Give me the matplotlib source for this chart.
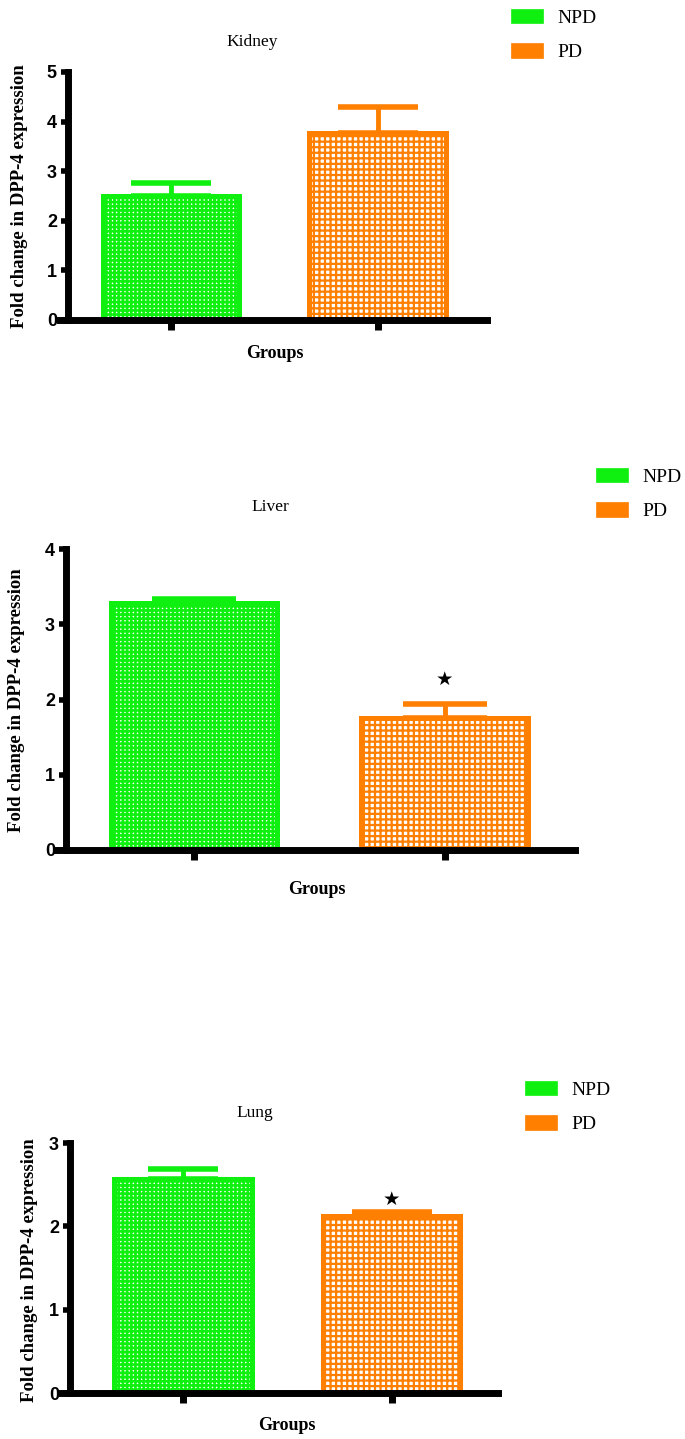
import matplotlib
matplotlib.use("Agg")
import matplotlib.pyplot as plt
from matplotlib.patches import Patch

# ---------------- data ----------------
groups = ["NPD", "PD"]
organs = ["Kidney", "Liver", "Lung"]
kidney_means = [2.50, 3.78]
kidney_err = [0.27, 0.52]
liver_means = [3.28, 1.75]
liver_err = [0.06, 0.19]
lung_means = [2.57, 2.12]
lung_err = [0.12, 0.05]
y_max = [5, 4, 3]
y_ticks = [[0, 1, 2, 3, 4, 5], [0, 1, 2, 3, 4], [0, 1, 2, 3]]
significant = [[False, False], [False, True], [False, True]]
ylabel = "Fold change in DPP-4 expression"
xlabel = "Groups"

colors = ["#10f010", "#ff7f00"]
hatches = ["++++", "+++"]
hatch_lw = [1.9, 1.6]

W, H = 685, 1439
fig = plt.figure(figsize=(W / 100, H / 100), dpi=100)

layouts = [
    dict(box=(68, 487, 72, 320), xlim=(-0.50, 1.53), caps=(80, 80), title=(252, 42),
         leg=(511, 18), ylab=(20, 196), xlab=(275, 353), bw=0.66, star_off=0),
    dict(box=(66, 575, 549, 850), xlim=(-0.51, 1.52), caps=(84, 84), title=(270, 507),
         leg=(596, 477), ylab=(17, 700), xlab=(317, 890), bw=0.665, star_off=0.33),
    dict(box=(70, 498, 1143, 1393), xlim=(-0.54, 1.51), caps=(70, 80), title=(255, 1113),
         leg=(525, 1090), ylab=(30, 1270), xlab=(287, 1425), bw=0.66, star_off=0.15),
]
means_all = [kidney_means, liver_means, lung_means]
err_all = [kidney_err, liver_err, lung_err]

serif = ["Liberation Serif", "DejaVu Serif"]
sans = ["Liberation Sans", "DejaVu Sans"]

for i, (organ, lay) in enumerate(zip(organs, layouts)):
    x0, x1, yt, yb = lay["box"]
    ax = fig.add_axes([x0 / W, 1 - yb / H, (x1 - x0) / W, (yb - yt) / H])
    ax.set_xlim(*lay["xlim"])
    ax.set_ylim(0, y_max[i])
    means = means_all[i]
    errs = err_all[i]
    xs = list(range(len(groups)))
    for j, g in enumerate(groups):
        b = ax.bar(xs[j], means[j], width=lay["bw"], facecolor="white",
                   edgecolor=colors[j], linewidth=3.6, hatch=hatches[j], zorder=2)
        for p in b:
            try:
                p.set_hatch_linewidth(hatch_lw[j])
            except Exception:
                pass
        ax.errorbar(xs[j], means[j], yerr=[[0], [errs[j]]], fmt="none",
                    ecolor=colors[j], elinewidth=3.5, capsize=lay["caps"][j] / 2 * 0.72,
                    capthick=4, zorder=1)
        if significant[i][j]:
            ax.text(xs[j], means[j] + errs[j] + lay["star_off"], "★", ha="center",
                    va="center", fontsize=14, color="black", family=["DejaVu Sans"])

    for s in ["top", "right"]:
        ax.spines[s].set_visible(False)
    ax.spines["left"].set_linewidth(5)
    ax.spines["bottom"].set_linewidth(5)
    ax.spines["left"].set_capstyle("projecting")
    ax.spines["bottom"].set_capstyle("projecting")
    ax.spines["bottom"].set_bounds(lay["xlim"][0] - 0.04, lay["xlim"][1])
    ax.set_xticks(xs)
    ax.set_xticklabels([])
    ax.tick_params(axis="x", length=7, width=5, direction="out")
    ax.set_yticks(y_ticks[i])
    ax.set_yticklabels([str(t) for t in y_ticks[i]], fontsize=13, fontweight="bold",
                       family=sans)
    ax.tick_params(axis="y", length=5, width=4, pad=3)

    def ax_frac(px, py):
        return ((px - x0) / (x1 - x0), (yb - py) / (yb - yt))

    ax.set_ylabel(ylabel, fontsize=13.5, fontweight="bold", family=serif, va="center")
    ax.yaxis.set_label_coords(*ax_frac(*lay["ylab"]))
    ax.set_xlabel(xlabel, fontsize=13, fontweight="bold", family=serif, va="center")
    ax.xaxis.set_label_coords(*ax_frac(*lay["xlab"]))
    tx, ty = ax_frac(*lay["title"])
    ax.text(tx, ty, organ, transform=ax.transAxes, ha="center", va="center",
            fontsize=12.5, family=serif)

    handles = [Patch(facecolor=colors[j], edgecolor=colors[j], linewidth=0.5)
               for j in range(len(groups))]
    lx, ly = lay["leg"]
    ax.legend(handles, groups, loc="center left",
              bbox_to_anchor=(lx / W, 1 - (ly + 17) / H),
              bbox_transform=fig.transFigure, frameon=False,
              prop={"family": serif, "size": 14}, handlelength=1.65,
              handleheight=0.75, handletextpad=0.75, labelspacing=0.85,
              borderaxespad=0, borderpad=0)

fig.savefig("out.png", dpi=100)
